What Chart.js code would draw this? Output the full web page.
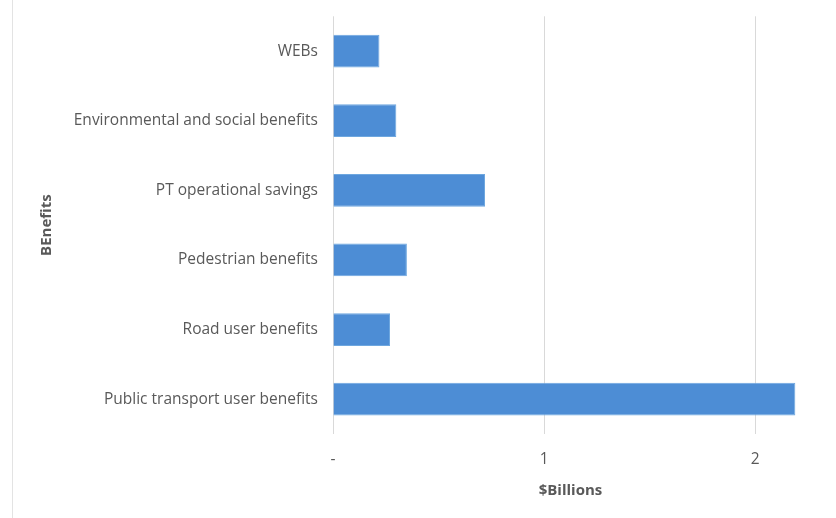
<!DOCTYPE html>
<html>
<head>
<meta charset="utf-8">
<script src="https://cdn.jsdelivr.net/npm/chart.js@4"></script>
<style>
  html, body { margin: 0; padding: 0; background: #fff; }
  #wrap { position: relative; width: 836px; height: 518px; }
  #wrap::before { content: ""; position: absolute; left: 12px; top: 0; bottom: 0; border-left: 1px solid #e3e3e3; }
</style>
</head>
<body>
<div id="wrap"><canvas id="chart" width="836" height="518"></canvas></div>
<script>
const categories = [
  "WEBs",
  "Environmental and social benefits",
  "PT operational savings",
  "Pedestrian benefits",
  "Road user benefits",
  "Public transport user benefits"
];
const billions = [0.22, 0.30, 0.72, 0.35, 0.27, 2.19];
const xTicks = [0, 1, 2];
const xTickLabels = ["-", "1", "2"];

const FONT = "Open Sans";

const ctx = document.getElementById("chart").getContext("2d");
new Chart(ctx, {
  type: "bar",
  data: {
    labels: categories,
    datasets: [{
      data: billions,
      backgroundColor: "#4d8dd5",
      borderColor: "#6ea7df",
      borderWidth: 1,
      categoryPercentage: 1,
      barPercentage: 0.47
    }]
  },
  options: {
    indexAxis: "y",
    responsive: false,
    animation: false,
    layout: { padding: { left: 34, right: 28, top: 6, bottom: 18 } },
    plugins: { legend: { display: false }, tooltip: { enabled: false } },
    scales: {
      x: {
        min: 0,
        max: 2.25,
        afterBuildTicks: s => { s.ticks = xTicks.map(v => ({ value: v })); },
        afterFit: s => { s.height = 518 - 18 - 434; },
        ticks: {
          padding: 16,
          color: "#595959",
          font: { family: FONT, size: 15.5 },
          callback: (v) => xTickLabels[xTicks.indexOf(v)]
        },
        grid: { color: "#d9d9d9", drawTicks: false },
        border: { display: false },
        title: {
          display: true,
          text: "$Billions",
          color: "#595959",
          font: { family: FONT, size: 15, weight: "bold" },
          padding: { top: 10, bottom: 0 }
        }
      },
      y: {
        afterFit: s => { s.width = 333 - 34; },
        ticks: {
          padding: 7,
          color: "#595959",
          font: { family: FONT, size: 15.5 }
        },
        grid: { display: false },
        border: { display: false },
        title: {
          display: true,
          text: "BEnefits",
          color: "#595959",
          font: { family: FONT, size: 15, weight: "bold" },
          padding: 4
        }
      }
    }
  }
});
</script>
</body>
</html>
